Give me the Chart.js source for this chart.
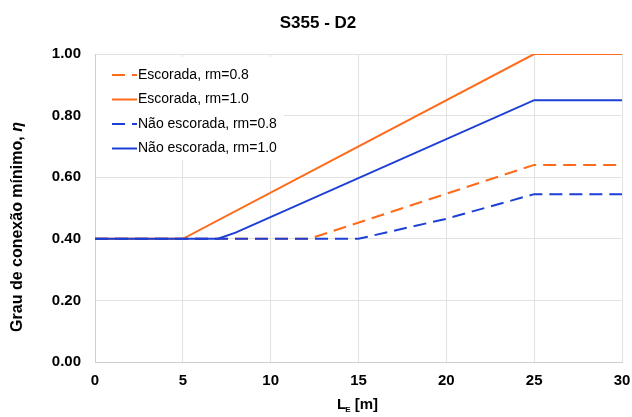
<!DOCTYPE html>
<html>
<head>
<meta charset="utf-8">
<script src="https://cdn.jsdelivr.net/npm/chart.js@4.4.0/dist/chart.umd.min.js"></script>
<style>
  html, body { margin: 0; padding: 0; background: #fff; }
  #wrap { width: 632px; height: 417px; }
</style>
</head>
<body>
<div id="wrap"><canvas id="grauChart" width="632" height="417"></canvas></div>
<script>
// dados
const titulo = 'S355 - D2';
const nomesSeries = ['Escorada, rm=0.8', 'Escorada, rm=1.0', 'Não escorada, rm=0.8', 'Não escorada, rm=1.0'];

const escorada08X = [0, 5, 12.2, 25, 30];
const escorada08Y = [0.40, 0.40, 0.40, 0.64, 0.64];

const escorada10X = [0, 5, 25, 30];
const escorada10Y = [0.40, 0.40, 1.00, 1.00];

const naoEscorada08X = [0, 15, 20, 25, 30];
const naoEscorada08Y = [0.40, 0.40, 0.465, 0.545, 0.545];

const naoEscorada10X = [0, 7, 8, 25, 30];
const naoEscorada10Y = [0.40, 0.40, 0.42, 0.85, 0.85];

const xTicks = [0, 5, 10, 15, 20, 25, 30];
const yTicks = [0, 0.2, 0.4, 0.6, 0.8, 1.0];

const LARANJA = '#ff6b1a';
const AZUL = '#1c3fd6';
const FONTE = '"Liberation Sans", Arial, sans-serif';

function pontos(xs, ys) {
    return xs.map((x, i) => ({ x: x, y: ys[i] }));
}

// titulo, rotulos dos eixos e legenda desenhados a mao
const extrasPlugin = {
    id: 'extras',
    afterDraw(chart) {
        const ctx = chart.ctx;
        const area = chart.chartArea;
        ctx.save();
        ctx.fillStyle = '#000';
        ctx.textBaseline = 'middle';

        // titulo
        ctx.font = 'bold 17px ' + FONTE;
        ctx.textAlign = 'center';
        ctx.fillText(titulo, 318, 23);

        // titulo eixo x: L_E [m]
        ctx.font = 'bold 15px ' + FONTE;
        const wL = ctx.measureText('L').width;
        ctx.font = 'bold 8px ' + FONTE;
        const wE = ctx.measureText('E').width;
        ctx.font = 'bold 15px ' + FONTE;
        const wM = ctx.measureText(' [m]').width;
        let x0 = 358 - (wL + wE + wM) / 2;
        const yx = 405;
        ctx.textAlign = 'left';
        ctx.fillText('L', x0, yx);
        ctx.font = 'bold 8px ' + FONTE;
        ctx.fillText('E', x0 + wL - 1, yx + 5);
        ctx.font = 'bold 15px ' + FONTE;
        ctx.fillText(' [m]', x0 + wL + wE - 1, yx);

        // titulo eixo y
        ctx.translate(18, 227);
        ctx.rotate(-Math.PI / 2);
        const parte1 = 'Grau de conexão mínimo, ';
        ctx.font = 'bold 16px ' + FONTE;
        const w1 = ctx.measureText(parte1).width;
        ctx.font = 'italic bold 16px ' + FONTE;
        const w2 = ctx.measureText('η').width;
        let s = -(w1 + w2) / 2;
        ctx.font = 'bold 16px ' + FONTE;
        ctx.fillText(parte1, s, 0);
        ctx.font = 'italic bold 16px ' + FONTE;
        ctx.fillText('η', s + w1, 0);
        ctx.restore();

        // legenda dentro da area
        ctx.save();
        ctx.fillStyle = '#fff';
        ctx.fillRect(area.left + 1, 57, 188, 103);
        ctx.font = '14px ' + FONTE;
        ctx.textAlign = 'left';
        ctx.textBaseline = 'middle';
        chart.data.datasets.forEach((ds, i) => {
            const y = 75 + i * 24.5;
            ctx.strokeStyle = ds.borderColor;
            ctx.lineWidth = 2;
            ctx.setLineDash(ds.borderDash || []);
            ctx.beginPath();
            ctx.moveTo(112, y);
            ctx.lineTo(137, y);
            ctx.stroke();
            ctx.setLineDash([]);
            ctx.fillStyle = '#000';
            ctx.fillText(ds.label, 138, y);
        });
        ctx.restore();
    }
};

const grauChart = new Chart(document.getElementById('grauChart'), {
    type: 'line',
    data: {
        datasets: [
            { label: nomesSeries[0], data: pontos(escorada08X, escorada08Y), borderColor: LARANJA, borderDash: [13, 7], borderWidth: 2, pointRadius: 0, fill: false, order: 4 },
            { label: nomesSeries[1], data: pontos(escorada10X, escorada10Y), borderColor: LARANJA, borderWidth: 2, pointRadius: 0, fill: false, order: 3 },
            { label: nomesSeries[2], data: pontos(naoEscorada08X, naoEscorada08Y), borderColor: AZUL, borderDash: [13, 7], borderWidth: 2, pointRadius: 0, fill: false, order: 2 },
            { label: nomesSeries[3], data: pontos(naoEscorada10X, naoEscorada10Y), borderColor: AZUL, borderWidth: 2, pointRadius: 0, fill: false, order: 1 }
        ]
    },
    options: {
        responsive: false,
        animation: false,
        devicePixelRatio: 1,
        layout: { padding: { left: 0, right: 10, top: 54, bottom: 0 } },
        plugins: { legend: { display: false }, title: { display: false }, tooltip: { enabled: false } },
        scales: {
            x: {
                type: 'linear',
                min: 0,
                max: 30,
                afterBuildTicks: (scale) => { scale.ticks = xTicks.map(v => ({ value: v })); },
                afterFit: (scale) => { scale.height = 55; scale.paddingRight = 0; scale.paddingLeft = 0; },
                ticks: { color: '#000', font: { family: FONTE, size: 15, weight: 'bold' }, padding: 10, maxRotation: 0 },
                grid: { color: '#e2e2e2', lineWidth: 1, drawTicks: false },
                border: { color: '#cfcfcf' }
            },
            y: {
                min: 0,
                max: 1,
                afterBuildTicks: (scale) => { scale.ticks = yTicks.map(v => ({ value: v })); },
                afterFit: (scale) => { scale.width = 95; scale.paddingTop = 0; scale.paddingBottom = 0; },
                ticks: { color: '#000', font: { family: FONTE, size: 15, weight: 'bold' }, padding: 14, callback: (v) => v.toFixed(2) },
                grid: { color: '#e2e2e2', lineWidth: 1, drawTicks: false },
                border: { color: '#cfcfcf' }
            }
        }
    },
    plugins: [extrasPlugin]
});
</script>
</body>
</html>
